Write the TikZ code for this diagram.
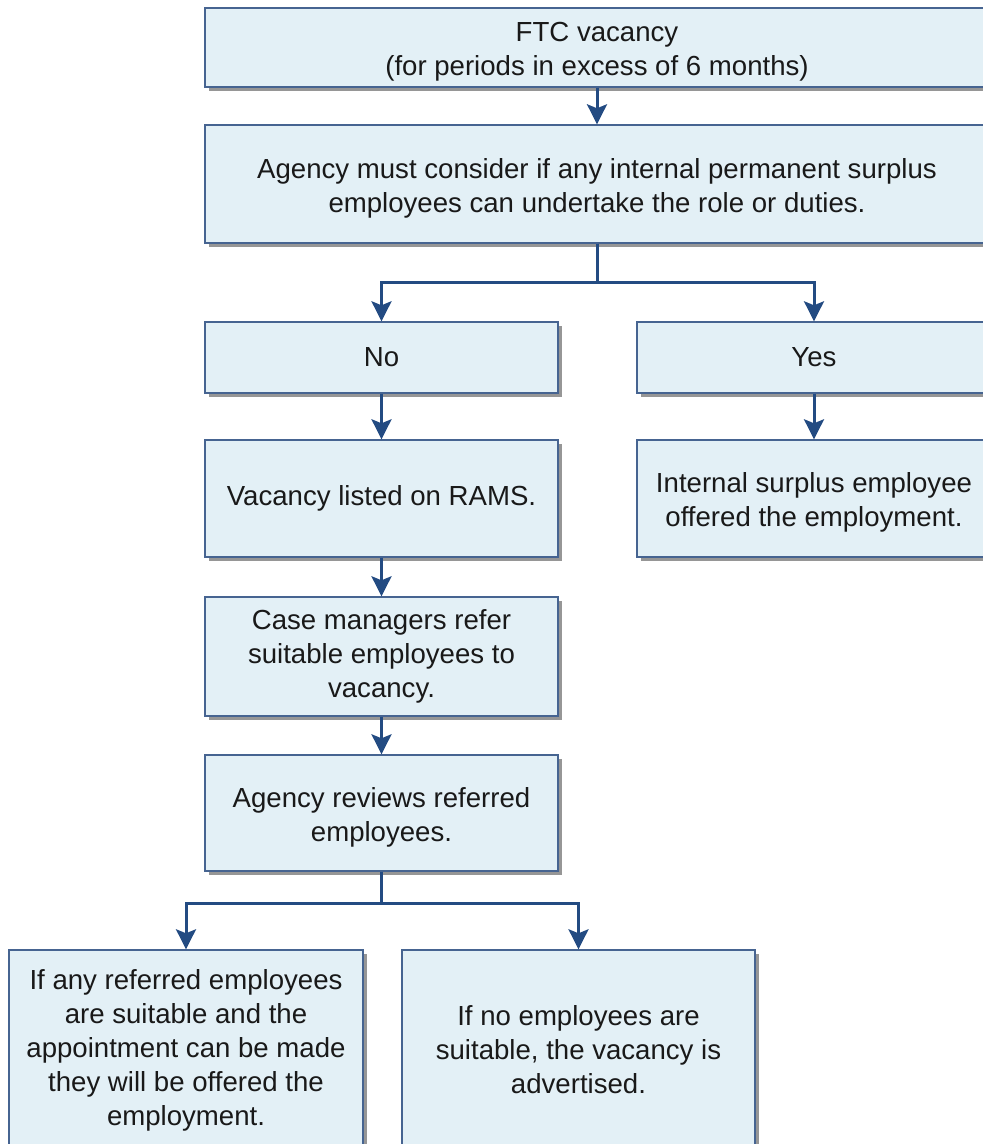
\documentclass[tikz,border=0pt]{standalone}
\usepackage{fontspec}
\setmainfont{Liberation Sans}
\usetikzlibrary{shadows,arrows.meta}
\definecolor{boxfill}{RGB}{227,240,246}
\definecolor{boxline}{RGB}{70,100,145}
\definecolor{arrcol}{RGB}{35,75,130}
\definecolor{shadowcol}{RGB}{150,150,150}
\tikzset{
  box/.style={draw=boxline, fill=boxfill, line width=1.4pt, inner sep=0pt, align=center,
    font=\fontsize{27.6}{34}\selectfont, text=black!90,
    drop shadow={shadow xshift=4pt, shadow yshift=-4pt, fill=shadowcol, opacity=1}},
  arr/.style={draw=arrcol, line width=3pt, -{Stealth[width=20pt,length=20pt,inset=4pt]}},
  line/.style={draw=arrcol, line width=3pt}
}
\begin{document}
\begin{tikzpicture}[x=1pt,y=-1pt]
\useasboundingbox (0,0) rectangle (983,1144);
\clip (0,0) rectangle (983,1144);
\node[box, minimum width=784pt, minimum height=79pt] (ftc) at (597,47.5) {\rule{0pt}{28pt}FTC vacancy\\(for periods in excess of 6 months)};
\node[box, minimum width=784pt, minimum height=118pt] (agency) at (597,184) {\rule{0pt}{28pt}Agency must consider if any internal permanent surplus\\employees can undertake the role or duties.};
\node[box, minimum width=353pt, minimum height=71pt] (no) at (381.5,357.5) {No};
\node[box, minimum width=354pt, minimum height=71pt] (yes) at (814,357.5) {Yes};
\node[box, minimum width=353pt, minimum height=117pt] (vac) at (381.5,498.5) {Vacancy listed on RAMS.};
\node[box, minimum width=354pt, minimum height=117pt] (int) at (814,498.5) {\rule{0pt}{28pt}Internal surplus employee\\offered the employment.};
\node[box, minimum width=353pt, minimum height=119pt] (case) at (381.5,656.5) {Case managers refer\\suitable employees to\\vacancy.};
\node[box, minimum width=353pt, minimum height=116pt] (rev) at (381.5,813) {\rule{0pt}{28pt}Agency reviews referred\\employees.};
\node[box, minimum width=354pt, minimum height=200pt] (left) at (186,1050) {If any referred employees\\are suitable and the\\appointment can be made\\they will be offered the\\employment.};
\node[box, minimum width=353pt, minimum height=200pt] (right) at (578.5,1050) {If no employees are\\suitable, the vacancy is\\advertised.};
\coordinate (j1) at (597,282);
\coordinate (j2) at (381.5,903);
\draw[arr] (ftc.south) -- (agency.north);
\draw[line] (agency.south) -- (j1);
\draw[arr] (j1) -| (no.north);
\draw[arr] (j1) -| (yes.north);
\draw[arr] (no.south) -- (vac.north);
\draw[arr] (yes.south) -- (int.north);
\draw[arr] (vac.south) -- (case.north);
\draw[arr] (case.south) -- (rev.north);
\draw[line] (rev.south) -- (j2);
\draw[arr] (j2) -| (left.north);
\draw[arr] (j2) -| (right.north);
\end{tikzpicture}
\end{document}
